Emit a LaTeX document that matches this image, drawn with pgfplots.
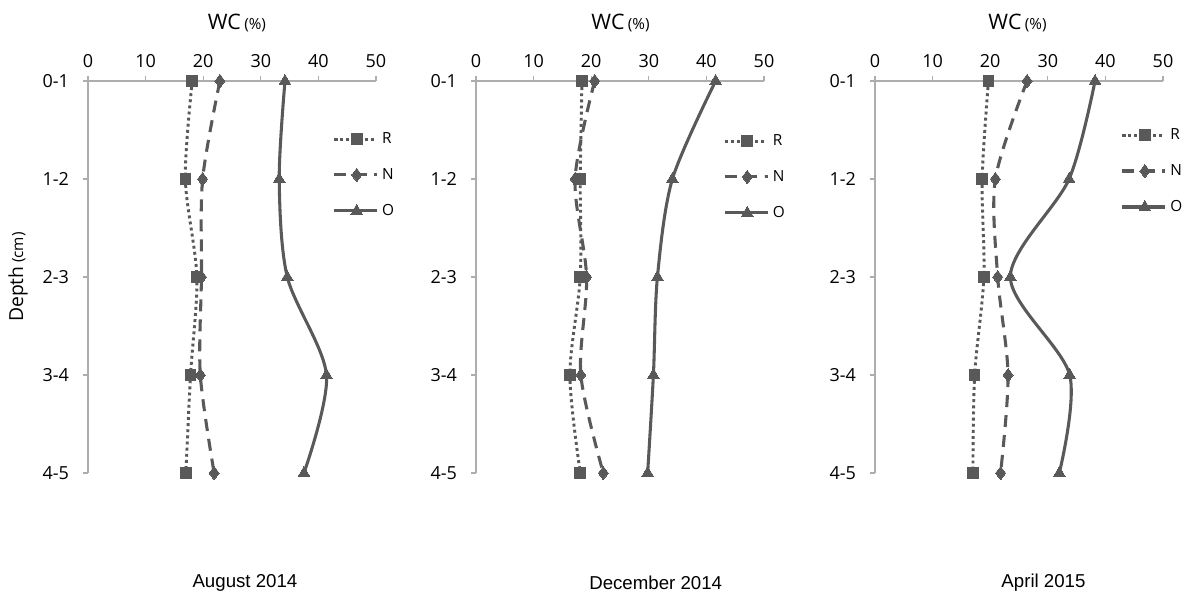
\documentclass[border=0pt]{standalone}
\usepackage{fontspec}
\setmainfont{Open Sans}
\newfontfamily\arialfont{Liberation Sans}
\usepackage{pgfplots}
\usepackage{pgfplotstable}
\pgfplotsset{compat=1.18}

\definecolor{ser}{HTML}{595959}
\definecolor{axgray}{HTML}{ADADAD}

\pgfplotstableread{
d R N O
0 18.1 22.9 34.2
-1 16.9 19.9 33.2
-2 18.9 19.7 34.6
-3 17.8 19.5 41.4
-4 17.0 21.9 37.5
}\aug

\pgfplotstableread{
d R N O
0 18.4 20.6 41.6
-1 18.1 17.2 34.1
-2 18.1 19.2 31.5
-3 16.3 18.2 30.8
-4 18.1 22.1 29.8
}\dec

\pgfplotstableread{
d R N O
0 19.7 26.4 38.2
-1 18.6 20.9 33.7
-2 18.9 21.3 23.5
-3 17.3 23.1 33.8
-4 17.0 21.8 32.0
}\apr

\pgfplotsset{
  panel/.style={
    anchor=south west,
    scale only axis,
    width=216pt, height=294pt,
    xmin=0, xmax=50, ymin=-4, ymax=0,
    enlargelimits=false,
    clip=false,
    axis x line=top,
    axis y line=left,
    axis line style={draw=axgray, line width=0.8pt, -},
    tick style={draw=axgray, line width=0.8pt},
    tick align=outside,
    major tick length=3.8pt,
    xtick={0,10,20,30,40,50},
    ytick={0,-1,-2,-3,-4},
    yticklabels={0-1,1-2,2-3,3-4,4-5},
    /pgf/number format/assume math mode=true,
    ticklabel style={font=\fontsize{13.5}{15}\selectfont},
    xticklabel style={yshift=3pt},
    yticklabel style={xshift=-7pt},
    xlabel={{\fontsize{16}{18}\selectfont WC} {\fontsize{11.5}{13}\selectfont(\%)}},
    title style={font=\arialfont\fontsize{14}{16}\selectfont, anchor=center},
    legend cell align=left,
    legend image code/.code={%
      \draw[mark repeat=2,mark phase=2,##1] plot coordinates {(0pt,0pt) (17pt,0pt) (32pt,0pt)};},
    legend style={draw=none, fill=none, anchor=west, inner sep=0pt,
      font=\fontsize{11.5}{13}\selectfont,
      nodes={inner xsep=3pt, inner ysep=0pt},
      row sep=17pt},
  },
  rser/.style={ser, line width=2.2pt, smooth, dash pattern=on 2.2pt off 2.4pt,
    mark=square*, mark size=4pt, mark options={solid, fill=ser, draw=ser, line width=0pt}},
  nser/.style={ser, line width=2.3pt, smooth, dash pattern=on 9pt off 6pt,
    mark=diamond*, mark size=5pt, mark options={solid, fill=ser, draw=ser, line width=0pt}},
  oser/.style={ser, line width=2.3pt, smooth,
    mark=triangle*, mark size=5pt, mark options={solid, fill=ser, draw=ser, line width=0pt}},
}

\begin{document}
\begin{tikzpicture}
\useasboundingbox (0,0) rectangle (889.5pt,444.75pt);

\begin{axis}[panel, at={(66pt,90pt)},
  xlabel style={at={(axis description cs:0.517,1.148)}, anchor=center},
  ylabel={{\fontsize{14.5}{16}\selectfont Depth} {\fontsize{11.5}{13}\selectfont(cm)}},
  ylabel style={at={(axis description cs:-0.243,0.5)}, anchor=center},
  title={August 2014},
  title style={at={(axis description cs:0.545,-0.300)}},
  legend style={at={(axis description cs:0.848,0.760)}}]
\addplot[rser] table[x=R,y=d]{\aug};
\addplot[nser] table[x=N,y=d]{\aug};
\addplot[oser] table[x=O,y=d]{\aug};
\legend{R,N,O}
\end{axis}

\begin{axis}[panel, at={(357pt,90pt)},
  xlabel style={at={(axis description cs:0.502,1.148)}, anchor=center},
  title={December 2014},
  title style={at={(axis description cs:0.624,-0.300)}},
  legend style={at={(axis description cs:0.857,0.755)}}]
\addplot[rser] table[x=R,y=d]{\dec};
\addplot[nser] table[x=N,y=d]{\dec};
\addplot[oser] table[x=O,y=d]{\dec};
\legend{R,N,O}
\end{axis}

\begin{axis}[panel, at={(656.25pt,90pt)},
  xlabel style={at={(axis description cs:0.495,1.148)}, anchor=center},
  title={April 2015},
  title style={at={(axis description cs:0.585,-0.300)}},
  legend style={at={(axis description cs:0.852,0.770)}}]
\addplot[rser] table[x=R,y=d]{\apr};
\addplot[nser] table[x=N,y=d]{\apr};
\addplot[oser] table[x=O,y=d]{\apr};
\legend{R,N,O}
\end{axis}
\end{tikzpicture}
\end{document}
